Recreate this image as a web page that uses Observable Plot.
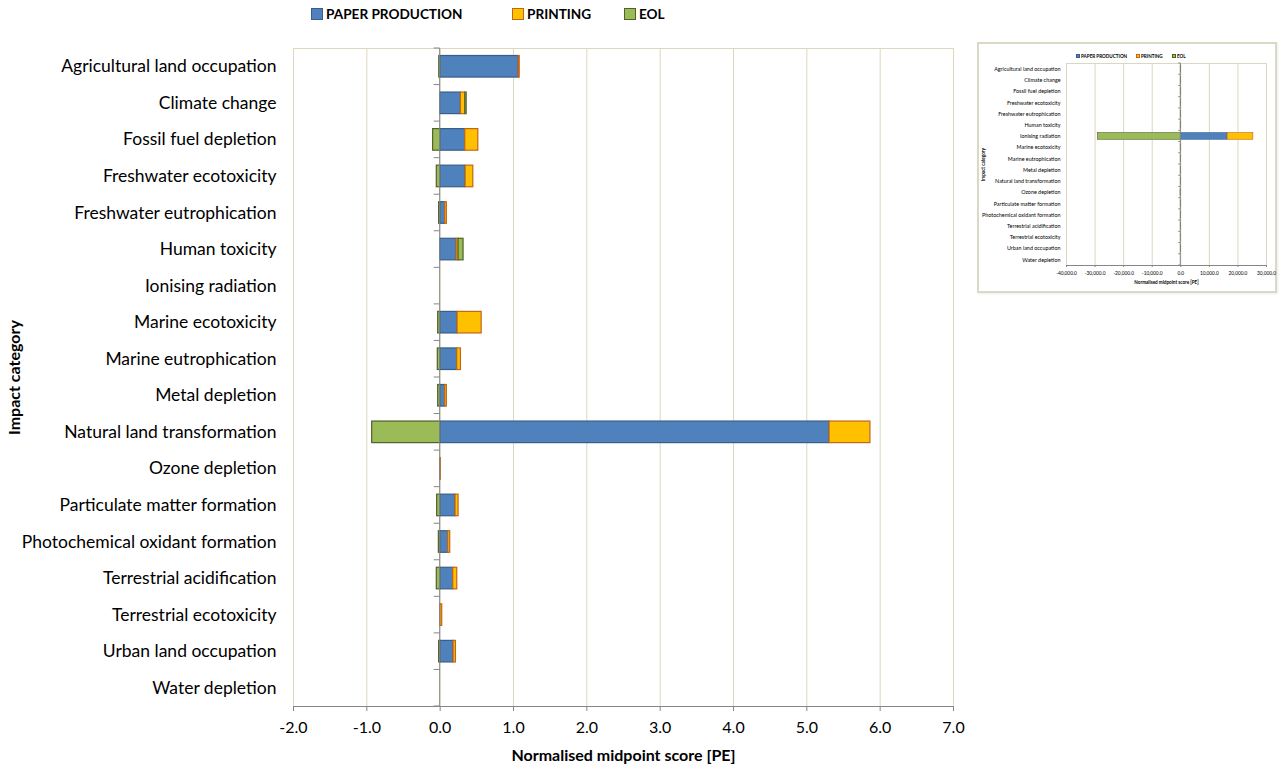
<!DOCTYPE html>
<html>
<head>
<meta charset="utf-8">
<script src="https://cdn.jsdelivr.net/npm/d3@7"></script>
<script src="https://cdn.jsdelivr.net/npm/@observablehq/plot@0.6"></script>
<style>
  body { margin: 0; background: #fff; font-family: Lato, "Open Sans", sans-serif; }
  #wrap { position: relative; width: 1279px; height: 766px; overflow: hidden; background: #fff; }
  #main { position: absolute; left: 0; top: 0; }
  .legend { position: absolute; font-weight: bold; color: #000; white-space: nowrap; }
  .legend .item { position: absolute; top: 0; display: flex; align-items: center; }
  .legend .sw { display: inline-block; box-sizing: border-box; border-style: solid; }
  #mainLegend { top: 6px; left: 0; font-size: 13.6px; }
  #mainLegend .sw { width: 12px; height: 12px; border-width: 1px; margin-right: 3px; }
  #inset { position: absolute; left: 977px; top: 42px; width: 296px; height: 247px; border: 2px solid #dcd8c6; background: #fff; box-shadow: 1px 1px 2px rgba(0,0,0,0.08); }
  #inset svg { position: absolute; left: 0; top: 0; }
  #insetLegend { top: 9px; left: 0; font-size: 4.6px; }
  #insetLegend .sw { width: 4px; height: 4px; border-width: 0.6px; margin-right: 1px; }
</style>
</head>
<body>
<div id="wrap">
  <div id="main"></div>
  <div id="mainLegend" class="legend"></div>
  <div id="inset"><div id="insetLegend" class="legend"></div></div>
</div>
<script>
// ---------- data ----------
const categories = [
  "Agricultural land occupation",
  "Climate change",
  "Fossil fuel depletion",
  "Freshwater ecotoxicity",
  "Freshwater eutrophication",
  "Human toxicity",
  "Ionising radiation",
  "Marine ecotoxicity",
  "Marine eutrophication",
  "Metal depletion",
  "Natural land transformation",
  "Ozone depletion",
  "Particulate matter formation",
  "Photochemical oxidant formation",
  "Terrestrial acidification",
  "Terrestrial ecotoxicity",
  "Urban land occupation",
  "Water depletion"
];
const paperProduction = [1.07, 0.283, 0.342, 0.347, 0.068, 0.224, 16400, 0.237, 0.233, 0.068, 5.31, 0.002, 0.21, 0.11, 0.178, 0.003, 0.183, 0];
const printing        = [0.015, 0.06, 0.178, 0.105, 0.023, 0.027, 9000, 0.329, 0.05, 0.023, 0.557, 0.005, 0.041, 0.027, 0.055, 0.025, 0.032, 0];
const eol             = [-0.012, 0.018, -0.096, -0.046, -0.014, 0.068, -29000, -0.027, -0.032, -0.027, -0.927, 0, -0.041, -0.018, -0.046, 0, -0.014, 0];
// the main chart leaves out this category (shown in the inset)
const mainExcluded = ["Ionising radiation"];

const seriesNames = ["PAPER PRODUCTION", "PRINTING", "EOL"];
const seriesFill = ["#4F81BD", "#FFC000", "#9BBB59"];
const seriesStroke = ["#385D8A", "#C2651A", "#4F6228"];

const mainTicks = [-2, -1, 0, 1, 2, 3, 4, 5, 6, 7];
const insetTicks = [-40000, -30000, -20000, -10000, 0, 10000, 20000, 30000];

const yTitle = "Impact category";
const xTitle = "Normalised midpoint score [PE]";

// ---------- table ----------
const seriesValues = [paperProduction, printing, eol];
const rows = [];
categories.forEach((c, i) => {
  seriesValues.forEach((arr, j) => {
    rows.push({category: c, series: seriesNames[j], fill: seriesFill[j], stroke: seriesStroke[j], value: arr[i]});
  });
});
const mainRows = rows.filter(d => !mainExcluded.includes(d.category));

const beige = "#DCD7BE";
const axisGray = "#868686";
const font = "Lato, 'Open Sans', sans-serif";

function buildChart(opts) {
  const {data, width, height, ml, mr, mt, mb, ticks, tickFmt, tickFont, catFont, titleFont,
         catPad, xTickPad, xTickSize, xTitleDy, yTitleDx, strokeW, bndTick} = opts;
  const chart = Plot.plot({
    width, height,
    marginLeft: ml, marginRight: mr, marginTop: mt, marginBottom: mb,
    style: {fontFamily: font, color: "#000", background: "transparent", overflow: "visible"},
    x: {domain: [ticks[0], ticks[ticks.length - 1]], ticks, tickFormat: tickFmt, label: null},
    y: {domain: categories, paddingInner: 0.41, paddingOuter: 0.205, round: false, label: null},
    color: {type: "identity"},
    marks: [
      Plot.frame({stroke: beige, strokeWidth: 1}),
      Plot.gridX({ticks, stroke: beige, strokeOpacity: 1, strokeWidth: 1}),
      Plot.barX(data, Plot.stackX({
        y: "category", x: "value", z: "series",
        fill: "fill", stroke: "stroke", strokeWidth: strokeW
      })),
      Plot.axisX({ticks, tickFormat: tickFmt, tickSize: xTickSize, tickPadding: xTickPad,
                  fontSize: tickFont, stroke: axisGray, label: null}),
      Plot.frame({anchor: "bottom", stroke: axisGray, strokeWidth: 1}),
      Plot.axisY({tickSize: 0, tickPadding: catPad, fontSize: catFont, label: null}),
      Plot.text([xTitle], {frameAnchor: "bottom", dy: xTitleDy, text: d => d, textAnchor: "middle",
                           fontWeight: "bold", fontSize: titleFont, lineAnchor: "middle"}),
      Plot.text([yTitle], {frameAnchor: "left", dx: yTitleDx, rotate: -90, text: d => d, textAnchor: "middle",
                           fontWeight: "bold", fontSize: titleFont, lineAnchor: "middle"})
    ]
  });
  // zero axis with tick marks at category boundaries, placed with the chart's own scales
  const xs = chart.scale("x"), ys = chart.scale("y");
  const x0 = xs.apply(0);
  const half = (ys.step - ys.bandwidth) / 2;
  const bounds = categories.map(c => ys.apply(c) - half);
  bounds.push(ys.apply(categories[categories.length - 1]) + ys.bandwidth + half);
  const g = d3.select(chart).append("g").attr("stroke", axisGray).attr("stroke-width", 1);
  g.append("line").attr("x1", x0).attr("x2", x0).attr("y1", bounds[0]).attr("y2", bounds[bounds.length - 1]);
  g.selectAll("line.t").data(bounds).join("line").attr("class", "t")
    .attr("x1", x0 - bndTick).attr("x2", x0).attr("y1", d => d).attr("y2", d => d);
  return chart;
}

const main = buildChart({
  data: mainRows, width: 980, height: 766, ml: 293, mr: 27, mt: 48, mb: 60,
  ticks: mainTicks, tickFmt: d => d.toFixed(1),
  tickFont: 16, catFont: 17.5, titleFont: 16, catPad: 17, xTickPad: 10, xTickSize: 5,
  xTitleDy: 49, yTitleDx: -279, strokeW: 1.2, bndTick: 6
});
document.getElementById("main").appendChild(main);

const insetFmt = d => d3.format(",.1f")(d).replace("\u2212", "-");
const inset = buildChart({
  data: rows, width: 296, height: 247, ml: 87, mr: 9, mt: 19, mb: 26,
  ticks: insetTicks, tickFmt: insetFmt,
  tickFont: 4.8, catFont: 5.4, titleFont: 4.6, catPad: 6, xTickPad: 4, xTickSize: 2,
  xTitleDy: 17, yTitleDx: -83, strokeW: 0.6, bndTick: 2
});
document.getElementById("inset").appendChild(inset);

// ---------- legends ----------
function legend(el, lefts) {
  seriesNames.forEach((s, i) => {
    const item = document.createElement("div");
    item.className = "item";
    item.style.left = lefts[i] + "px";
    const sw = document.createElement("span");
    sw.className = "sw";
    sw.style.background = seriesFill[i];
    sw.style.borderColor = seriesStroke[i];
    item.appendChild(sw);
    item.appendChild(document.createTextNode(s));
    el.appendChild(item);
  });
}
legend(document.getElementById("mainLegend"), [311, 512, 624]);
legend(document.getElementById("insetLegend"), [97, 157, 193]);
</script>
</body>
</html>
